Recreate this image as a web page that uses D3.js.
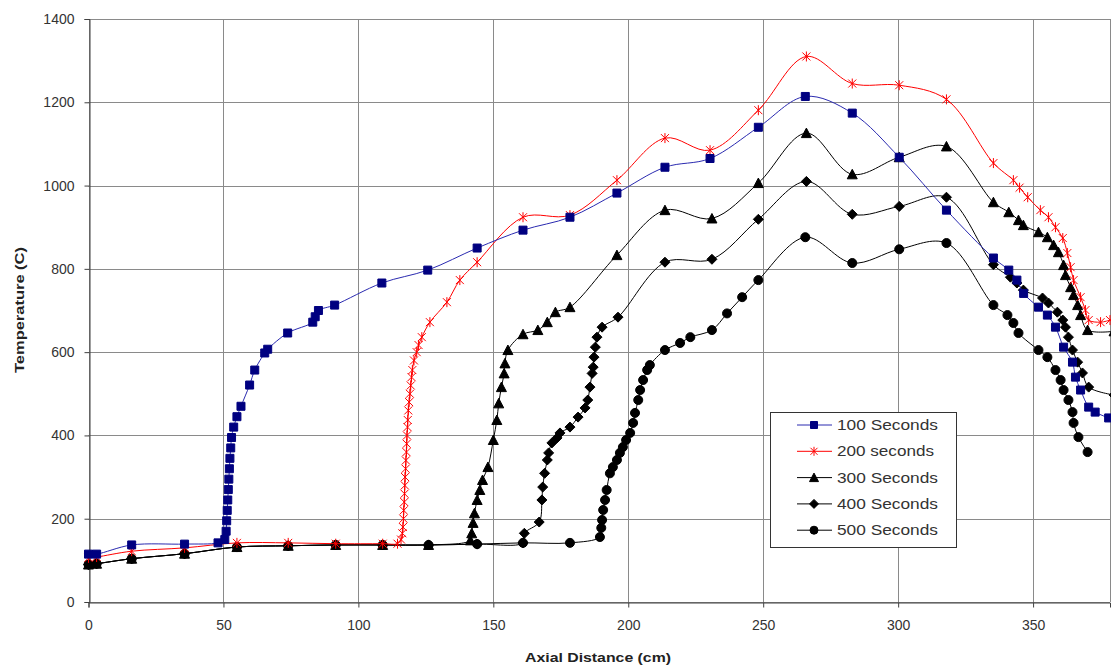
<!DOCTYPE html>
<html><head><meta charset="utf-8">
<script src="https://cdn.jsdelivr.net/npm/d3@7"></script>
<style>
body{margin:0;background:#fff}
text{font-family:Arial,"Liberation Sans",sans-serif}
</style>
</head><body>
<svg id="chart" width="1111" height="669"></svg>
<script>
// ---------- DATA ----------
const xTicks = [0, 50, 100, 150, 200, 250, 300, 350];
const yTicks = [0, 200, 400, 600, 800, 1000, 1200, 1400];
const seriesNames = ["100 Seconds", "200 seconds", "300 Seconds", "400 Seconds", "500 Seconds"];

const s100 = [[0,115],[3,115],[16,137],[35.6,139],[48,142],[50.5,150],[51,170],[51.2,195],[51.4,220],[51.6,245],[51.8,270],[52,295],[52.2,320],[52.4,345],[52.7,370],[53,395],[53.8,420],[55,445],[56.5,470],[59.7,521],[61.6,557],[65.3,598],[66.4,607],[73.8,646],[83.1,672],[84,685],[85.2,700],[91.2,713],[108.7,766],[125.7,797],[144,850],[161,893],[178.4,924],[195.8,982],[213.6,1044],[230.3,1065],[248.2,1140],[265.6,1214],[283,1174],[300.4,1068],[317.9,941],[335.3,826],[341,797],[344,773],[346.5,741],[352,708],[355.3,689],[358.3,660],[361.3,612],[364.6,576],[365.7,540],[367.6,509],[370.6,468],[373,456],[378,442]];

const s200 = [[0,106],[3,108],[16,122],[35.6,130],[55,142],[74,142],[91.6,140],[109,140],[114.5,140],[115.8,150],[116.3,165],[116.5,180],[116.7,200],[116.8,220],[117,240],[117.1,260],[117.2,280],[117.3,300],[117.5,320],[117.6,340],[117.8,360],[117.9,380],[118,400],[118.2,420],[118.3,437],[118.5,460],[118.8,480],[119.1,500],[119.4,520],[119.7,540],[120,557],[120.6,580],[121.6,600],[122.3,617],[123.5,636],[126.5,672],[132.8,720],[137.6,773],[144,816],[161,924],[178.4,929],[195.8,1013],[213.6,1114],[230.3,1085],[248.2,1181],[266,1310],[283,1245],[300.4,1241],[317.9,1207],[335.3,1054],[342.7,1013],[345,995],[348,972],[352.7,941],[355.7,924],[358.3,900],[361,874],[362.7,838],[363.9,804],[365,773],[367.6,732],[369.4,701],[370.6,677],[375,672],[378.5,677]];

const s300 = [[0,90],[3,92],[16,104],[35.6,116],[55,132],[74,135],[91.6,137],[109,137],[126,137],[141.5,148],[142,165],[142.5,190],[143,213],[144,245],[145,269],[146,293],[148,324],[150,389],[151.3,437],[152,477],[153,516],[154,549],[154.3,573],[155.4,605],[161,643],[166.5,653],[170,672],[173,696],[178.4,708],[195.8,833],[213.6,941],[231,921],[248.2,1006],[266,1126],[283,1027],[300.4,1068],[317.9,1094],[335.3,960],[341,936],[344.6,917],[346.4,905],[352,888],[355.3,876],[357.6,857],[359.4,840],[361.3,809],[362,785],[363.9,756],[365,737],[366.5,713],[367.6,689],[370.2,653],[380,650]];

const s400 = [[0,90],[3,92],[16,104],[35.6,116],[55,132],[74,135],[91.6,137],[109,137],[126,137],[144,139],[161,142],[161.5,165],[167,192],[168,245],[168.3,276],[169,309],[170,341],[170.5,358],[171.7,382],[173.6,394],[174.7,406],[178.4,420],[181.4,444],[184,466],[185,485],[185.8,516],[186.6,549],[187,564],[187.3,588],[187.8,612],[188.4,636],[190.3,660],[196.2,684],[213.6,816],[231,823],[248.2,919],[266,1010],[283,931],[300.4,950],[317.9,972],[335.3,810],[341.6,780],[344,766],[346.4,749],[353.5,730],[355.7,718],[359,696],[361,677],[362,660],[363.1,636],[364.6,605],[366.5,576],[368.3,550],[370.6,516],[380,497]];

const s500 = [[0,90],[3,92],[16,104],[35.6,116],[55,132],[74,135],[91.6,137],[109,137],[126,137],[144,139],[161,142],[178.4,142],[189.5,156],[190,178],[190.3,197],[190.7,221],[191.4,245],[192,269],[193.2,309],[194.3,324],[195.8,341],[196.9,358],[198,372],[199.2,389],[200.7,406],[201.8,430],[202.5,454],[203.7,485],[204.4,509],[205.5,533],[207,557],[208,569],[213.6,605],[219.2,622],[223,636],[231,653],[236.6,693],[242.2,732],[248.2,773],[265.6,876],[283,814],[300.4,847],[317.9,862],[335.3,713],[340.5,689],[342.7,670],[344.6,646],[352,605],[355.3,588],[358.3,557],[360.2,533],[361.3,509],[363.1,485],[364.6,456],[365,430],[366.8,396],[370.2,360]];

// ---------- LAYOUT ----------
const svg = d3.select("#chart");
const x = d3.scaleLinear().domain([0, 378.5]).range([88.5, 1110]);
const y = d3.scaleLinear().domain([0, 1400]).range([602, 19]);
const px = v => Math.round(v) + 0.5;

// grid
const grid = svg.append("g");
grid.selectAll(".hg").data(yTicks).join("line")
  .attr("x1", x(0)).attr("x2", 1110)
  .attr("y1", d => px(y(d))).attr("y2", d => px(y(d)))
  .attr("stroke", "#8a8a8a").attr("stroke-width", 1);
grid.selectAll(".vg").data(xTicks.concat([378.5])).join("line")
  .attr("x1", d => px(x(d))).attr("x2", d => px(x(d)))
  .attr("y1", y(0)).attr("y2", y(1400))
  .attr("stroke", "#8a8a8a").attr("stroke-width", 1);

// axes
const yAxis = svg.append("g").attr("transform", `translate(${px(x(0))},0)`)
  .call(d3.axisLeft(y).tickValues(yTicks).tickSize(5).tickPadding(10).tickFormat(d3.format("d")));
const xAxis = svg.append("g").attr("transform", `translate(0,${px(y(0))})`)
  .call(d3.axisBottom(x).tickValues(xTicks).tickSize(5).tickPadding(13).tickFormat(d3.format("d")));
[yAxis, xAxis].forEach(a => {
  a.select(".domain").attr("stroke", "#404040");
  a.selectAll(".tick line").attr("stroke", "#404040");
  a.selectAll("text").attr("fill", "#333").attr("font-size", 14).attr("font-family", "Arial,'Liberation Sans',sans-serif");
});

// axis titles
svg.append("text").attr("x", 598).attr("y", 662).attr("text-anchor", "middle")
  .attr("font-size", 13).attr("font-weight", "bold").attr("fill", "#222")
  .attr("textLength", 146).attr("lengthAdjust", "spacingAndGlyphs")
  .text("Axial Distance (cm)");
svg.append("text").attr("transform", "translate(24,310) rotate(-90)").attr("text-anchor", "middle")
  .attr("font-size", 13).attr("font-weight", "bold").attr("fill", "#222")
  .attr("textLength", 126).attr("lengthAdjust", "spacingAndGlyphs")
  .text("Temperature (C)");

// ---------- SERIES ----------
const markerPath = {
  square: s => `M${-s},${-s}h${2*s}v${2*s}h${-2*s}Z`,
  star: s => `M${-s},${-s}L${s},${s}M${-s},${s}L${s},${-s}M0,${-s-1}V${s+1}`,
  triangle: s => `M0,${-s-0.5}L${s+0.5},${s}L${-s-0.5},${s}Z`,
  diamond: s => `M0,${-s-1}L${s+1},0L0,${s+1}L${-s-1},0Z`,
  circle: s => d3.symbol(d3.symbolCircle, Math.PI * s * s)()
};
const series = [
  {name: seriesNames[0], data: s100, color: "#000080", line: "#2a2ab0", marker: "square", size: 4},
  {name: seriesNames[1], data: s200, color: "#ff0000", line: "#ff0000", marker: "star", size: 4},
  {name: seriesNames[2], data: s300, color: "#000000", line: "#000000", marker: "triangle", size: 4.5},
  {name: seriesNames[3], data: s400, color: "#000000", line: "#000000", marker: "diamond", size: 4},
  {name: seriesNames[4], data: s500, color: "#000000", line: "#000000", marker: "circle", size: 4.5}
];

const clip = svg.append("clipPath").attr("id", "plotclip").append("rect")
  .attr("x", 0).attr("y", 0).attr("width", 1111).attr("height", 669);

const line = d3.line().x(d => x(d[0])).y(d => y(d[1])).curve(d3.curveCatmullRom.alpha(0.5));
const plot = svg.append("g");
// draw in reverse so blue/red are on top
series.slice().reverse().forEach(s => {
  const g = plot.append("g");
  g.append("path").attr("d", line(s.data)).attr("fill", "none")
    .attr("stroke", s.line).attr("stroke-width", 1);
  g.selectAll("path.m").data(s.data).join("path").attr("class", "m")
    .attr("transform", d => `translate(${x(d[0])},${y(d[1])})`)
    .attr("d", markerPath[s.marker](s.size))
    .attr("fill", s.marker === "star" ? "none" : s.color)
    .attr("stroke", s.color).attr("stroke-width", 1);
});

// ---------- LEGEND ----------
const lg = svg.append("g");
lg.append("rect").attr("x", 770.5).attr("y", 412.5).attr("width", 186).attr("height", 135)
  .attr("fill", "#fff").attr("stroke", "#333").attr("stroke-width", 1);
const rows = lg.selectAll("g.row").data(series).join("g").attr("class", "row")
  .attr("transform", (d, i) => `translate(0,${425 + i * 26.3})`);
rows.append("line").attr("x1", 797).attr("x2", 832).attr("y1", 0).attr("y2", 0)
  .attr("stroke", d => d.line).attr("stroke-width", 1);
rows.append("path").attr("transform", "translate(814,0)")
  .attr("d", d => markerPath[d.marker](d.size - 0.5))
  .attr("fill", d => d.marker === "star" ? "none" : d.color)
  .attr("stroke", d => d.color).attr("stroke-width", 1);
rows.append("text").attr("x", 837).attr("y", 5).attr("font-size", 14).attr("fill", "#333")
  .attr("textLength", d => d.name === "200 seconds" ? 97 : 101).attr("lengthAdjust", "spacingAndGlyphs")
  .text(d => d.name);
</script>
</body></html>
